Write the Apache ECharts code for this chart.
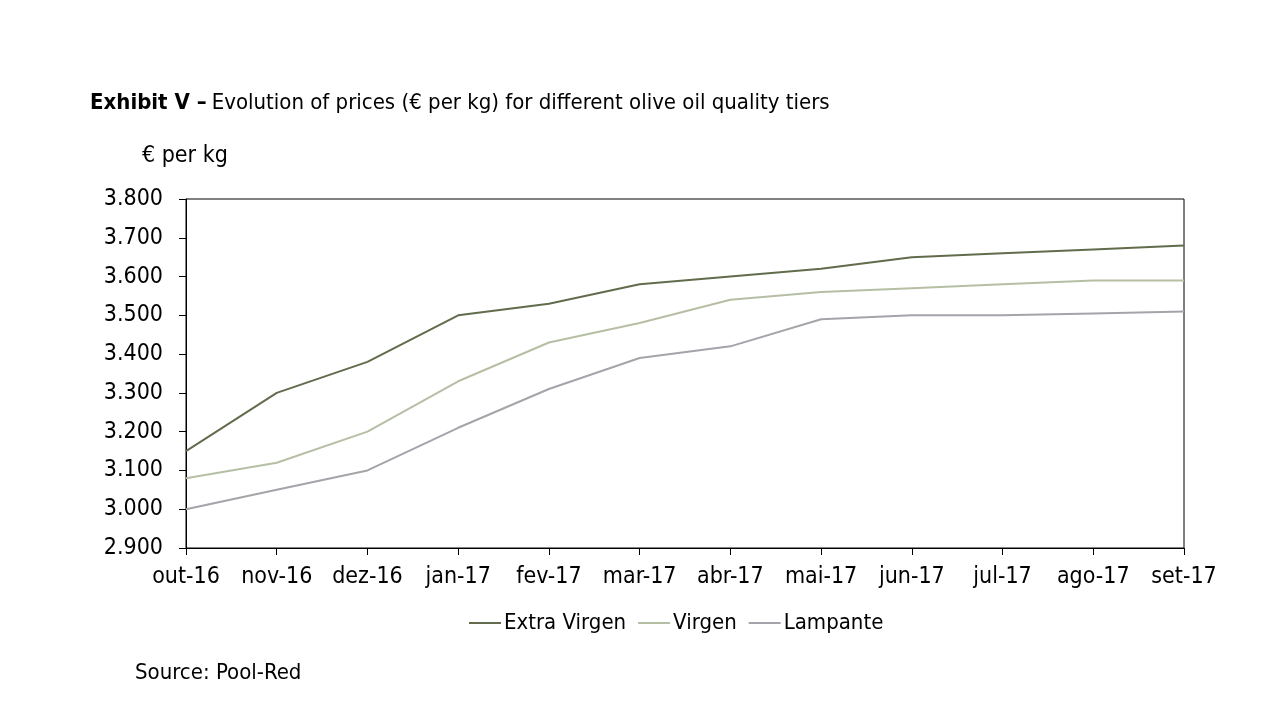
<!DOCTYPE html>
<html><head><meta charset="utf-8">
<script src="https://cdn.jsdelivr.net/npm/echarts@6/dist/echarts.min.js"></script>
<style>html,body{margin:0;padding:0;background:#fff}#c{width:1280px;height:720px}</style>
</head><body><div id="c"></div>
<script>
const categories = ['out-16','nov-16','dez-16','jan-17','fev-17','mar-17','abr-17','mai-17','jun-17','jul-17','ago-17','set-17'];
const extraVirgen = [3.15,3.30,3.38,3.50,3.53,3.58,3.60,3.62,3.65,3.66,3.67,3.68];
const virgen = [3.08,3.12,3.20,3.33,3.43,3.48,3.54,3.56,3.57,3.58,3.59,3.59];
const lampante = [3.00,3.05,3.10,3.21,3.31,3.39,3.42,3.49,3.50,3.50,3.505,3.51];
const seriesNames = ['Extra Virgen','Virgen','Lampante'];
const FONT = '"Liberation Sans Narrow","DejaVu Sans Condensed","Roboto Condensed",sans-serif';
const chart = echarts.init(document.getElementById('c'));
const mk = (name, data, color) => ({
  name, type: 'line', data, symbol: 'none', smooth: false,
  lineStyle: { color, width: 2 }, itemStyle: { color }
});
chart.setOption({
  animation: false,
  textStyle: { fontFamily: FONT },
  title: [
    { left: 85, top: 87, text: '{b|Exhibit V –} {n|Evolution of prices (€ per kg) for different olive oil quality tiers}',
      textStyle: { fontWeight: 'normal', rich: { b: { fontFamily: FONT, fontWeight: 'bold', fontSize: 22, color: '#000' }, n: { fontFamily: FONT, fontWeight: 'normal', fontSize: 22, color: '#000' } } } },
    { left: 137, top: 140, text: '€ per kg', textStyle: { fontFamily: FONT, fontSize: 23, fontWeight: 'normal', color: '#000' } },
    { left: 130, top: 657, text: 'Source: Pool-Red', textStyle: { fontFamily: FONT, fontSize: 22, fontWeight: 'normal', color: '#000' } }
  ],
  legend: {
    data: seriesNames, left: 464, top: 607, itemWidth: 32, itemHeight: 2, itemGap: 12,
    icon: 'rect',
    textStyle: { fontFamily: FONT, fontSize: 22, color: '#000', padding: [0,0,0,-2] }
  },
  grid: { left: 186, right: 96, top: 199, bottom: 172, show: true, borderColor: '#000', borderWidth: 1 },
  xAxis: {
    type: 'category', data: categories, boundaryGap: false,
    axisLine: { lineStyle: { color: '#000', width: 1 } },
    axisTick: { show: true, length: 7, lineStyle: { color: '#000' }, alignWithLabel: true },
    axisLabel: { fontFamily: FONT, fontSize: 23, color: '#000', margin: 18, interval: 0 },
    splitLine: { show: false }
  },
  yAxis: {
    type: 'value', min: 2.9, max: 3.8, interval: 0.1,
    axisLine: { show: true, lineStyle: { color: '#000', width: 1 } },
    axisTick: { show: true, length: 7, lineStyle: { color: '#000' } },
    axisLabel: { fontFamily: FONT, fontSize: 23, color: '#000', margin: 23, formatter: v => v.toFixed(3) },
    splitLine: { show: false }
  },
  series: [
    mk(seriesNames[0], extraVirgen, '#626c4c'),
    mk(seriesNames[1], virgen, '#b6bfa4'),
    mk(seriesNames[2], lampante, '#a4a4aa')
  ]
});
</script></body></html>
